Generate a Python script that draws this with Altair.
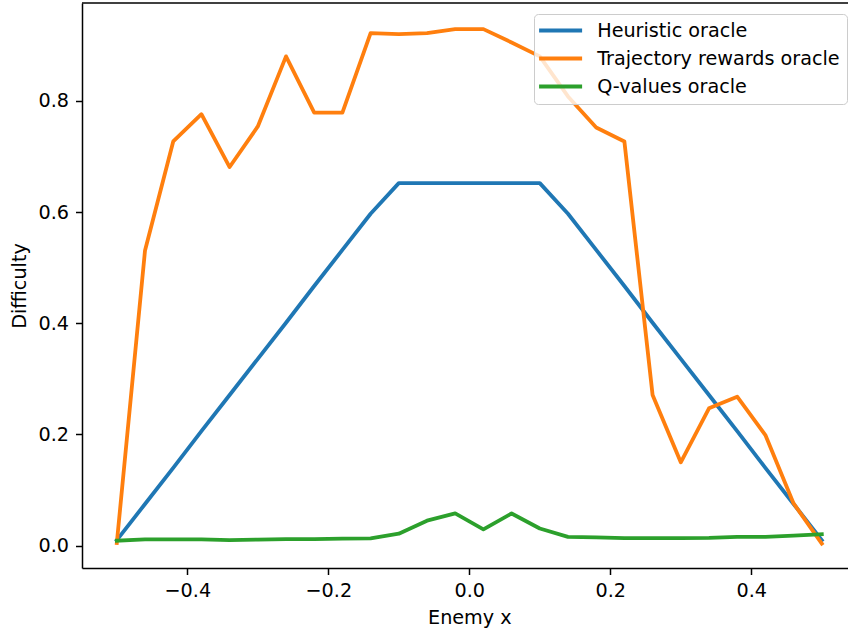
import altair as alt
import pandas as pd

# Enemy x positions
enemy_x = [-0.50, -0.46, -0.42, -0.38, -0.34, -0.30, -0.26, -0.22, -0.18, -0.14,
           -0.10, -0.06, -0.02, 0.02, 0.06, 0.10, 0.14, 0.18, 0.22, 0.26,
           0.30, 0.34, 0.38, 0.42, 0.46, 0.50]

heuristic = [0.010, 0.075, 0.140, 0.206, 0.271, 0.336, 0.401, 0.467, 0.532, 0.597,
             0.652, 0.652, 0.652, 0.652, 0.652, 0.652, 0.597, 0.532, 0.467, 0.401,
             0.336, 0.271, 0.206, 0.140, 0.075, 0.010]

trajectory = [0.005, 0.531, 0.727, 0.776, 0.681, 0.754, 0.880, 0.779, 0.779, 0.922,
              0.920, 0.922, 0.929, 0.929, 0.905, 0.880, 0.808, 0.752, 0.727, 0.271,
              0.150, 0.247, 0.268, 0.199, 0.076, 0.004]

qvalues = [0.009, 0.0115, 0.0115, 0.0115, 0.010, 0.011, 0.012, 0.012, 0.0127, 0.0133,
           0.0216, 0.045, 0.058, 0.0295, 0.058, 0.031, 0.016, 0.015, 0.0138, 0.0138,
           0.0138, 0.014, 0.0157, 0.016, 0.018, 0.0205]

series_names = ["Heuristic oracle", "Trajectory rewards oracle", "Q-values oracle"]
series_colors = ["#1f77b4", "#ff7f0e", "#2ca02c"]

x_ticks = [-0.4, -0.2, 0.0, 0.2, 0.4]
y_ticks = [0.0, 0.2, 0.4, 0.6, 0.8]

rows = []
for name, vals in zip(series_names, [heuristic, trajectory, qvalues]):
    for xv, yv in zip(enemy_x, vals):
        rows.append({"x": xv, "y": yv, "series": name})
df = pd.DataFrame(rows)

FONT = "DejaVu Sans"
FS = 19.2
W, H = 766, 565

lines = alt.Chart(df).mark_line(
    strokeWidth=3.8, strokeCap="square", strokeJoin="round", clip=True
).encode(
    x=alt.X("x:Q",
            scale=alt.Scale(domain=[-0.5494, 0.5372], zero=False, nice=False),
            axis=alt.Axis(values=x_ticks, format=".1f", title="Enemy x",
                          titleX=387.3, titleY=55, titleAlign="center",
                          titleBaseline="alphabetic")),
    y=alt.Y("y:Q",
            scale=alt.Scale(domain=[-0.0401, 0.976], zero=False, nice=False),
            axis=alt.Axis(values=y_ticks, format=".1f", title="Difficulty",
                          titleX=-57, titleY=282.5, titleAngle=270,
                          titleAlign="center", titleBaseline="alphabetic")),
    color=alt.Color("series:N",
                    scale=alt.Scale(domain=series_names, range=series_colors),
                    legend=alt.Legend(title=None, orient="none",
                                      legendX=452, legendY=11,
                                      symbolType="M-4,0H4", symbolSize=115.6,
                                      symbolStrokeWidth=4, symbolOffset=10,
                                      labelFont=FONT, labelFontSize=FS,
                                      labelColor="black", labelOffset=27,
                                      labelLimit=500,
                                      rowPadding=8, padding=7,
                                      cornerRadius=4, strokeColor="#cccccc",
                                      fillColor="rgba(255,255,255,0.8)")),
)

top_border = alt.Chart(pd.DataFrame({"a": [0]})).mark_rule(
    color="black", strokeWidth=1.5
).encode(x=alt.value(0), x2=alt.value(W), y=alt.value(0))

chart = alt.layer(lines, top_border).properties(
    width=W, height=H,
    padding={"left": 82, "top": 3, "right": 0, "bottom": 62},
    autosize=alt.AutoSizeParams(type="none"),
).configure_view(stroke=None).configure_axis(
    grid=False, domainColor="black", domainWidth=1.5,
    tickColor="black", tickWidth=1.5, tickSize=6.5,
    labelPadding=7, labelFont=FONT, labelFontSize=FS, labelColor="black",
    titleFont=FONT, titleFontSize=FS, titleColor="black", titleFontWeight="normal",
)

chart.save("out.html", embed_options={"renderer": "svg", "actions": False})
